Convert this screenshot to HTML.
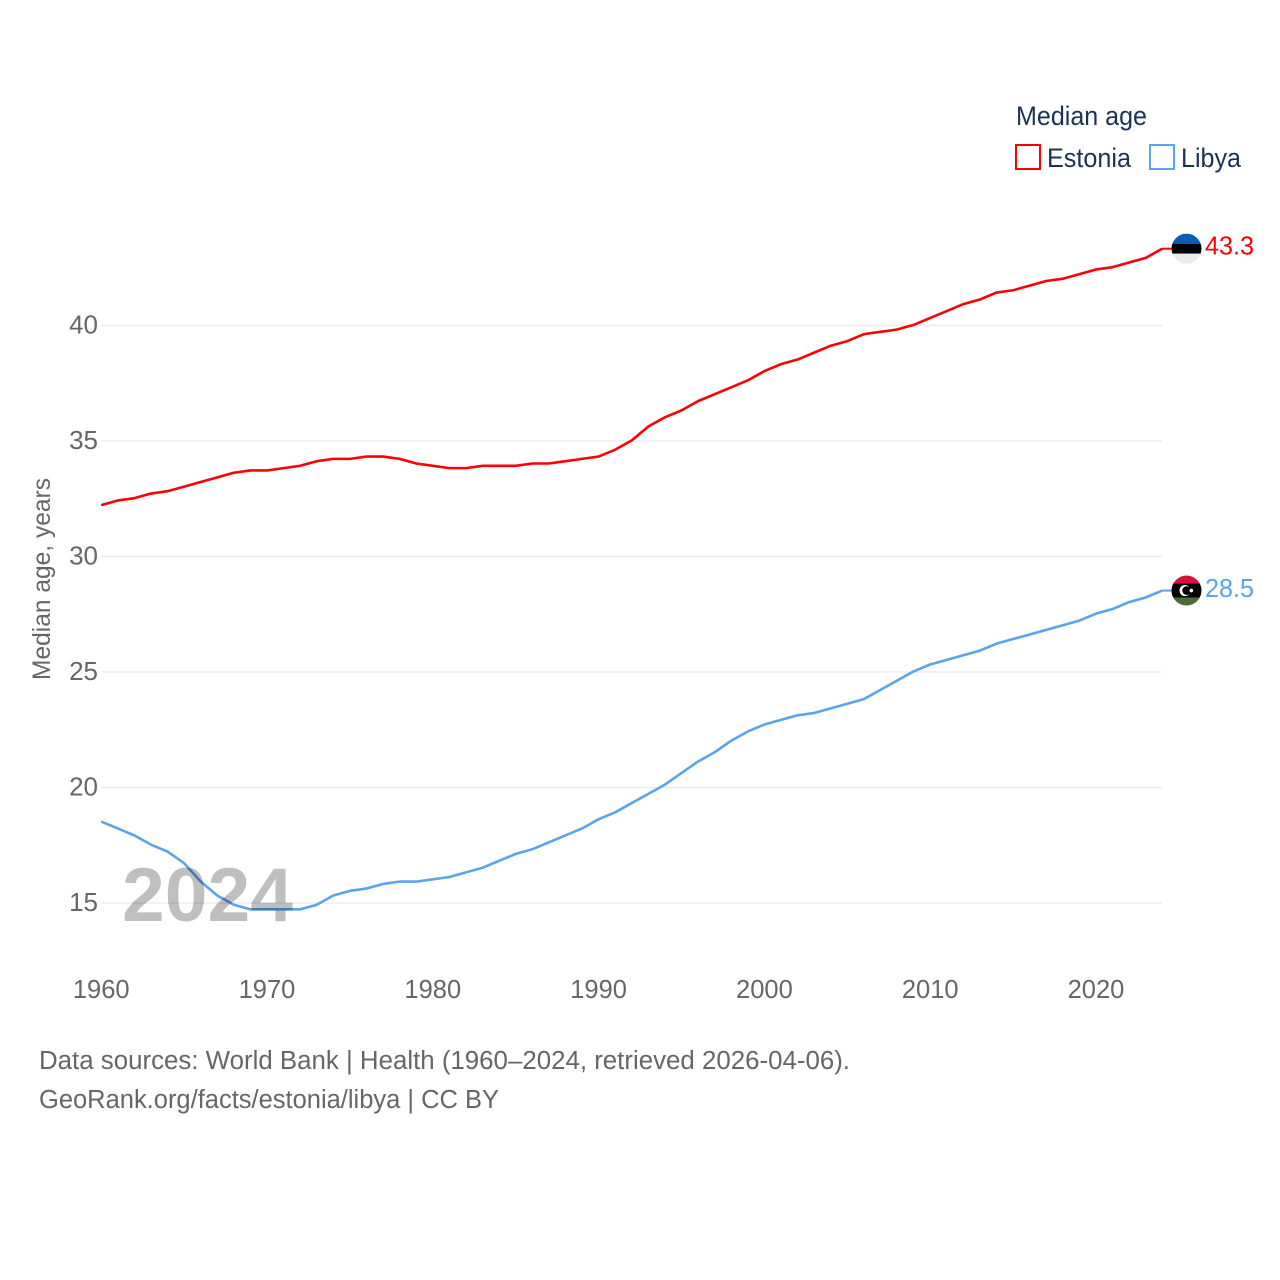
<!DOCTYPE html>
<html lang="en">
<head>
<meta charset="utf-8">
<title>Median age: Estonia and Libya</title>
<style>
html,body{margin:0;padding:0;background:#fff;}
svg{display:block;}
text{font-family:"Liberation Sans",sans-serif;}
</style>
</head>
<body>
<svg id="chart" xmlns="http://www.w3.org/2000/svg" width="1280" height="1280" viewBox="0 0 1280 1280">
  <defs>
    <clipPath id="estonia-clip"><circle id="estonia-clip-circle" r="15"></circle></clipPath>
    <clipPath id="libya-clip"><circle id="libya-clip-circle" r="15"></circle></clipPath>
  </defs>
  <rect width="1280" height="1280" fill="#fff"></rect>

  <g id="grid"></g>
  <g id="y-ticks"></g>
  <g id="x-ticks"></g>

  <text transform="translate(50 680) rotate(-90)" font-size="25" fill="#666" textLength="202" lengthAdjust="spacingAndGlyphs">Median age, years</text>

  <g id="series"></g>

  <text x="122" y="921" font-size="76" font-weight="700" fill="#000" fill-opacity="0.25" textLength="171" lengthAdjust="spacingAndGlyphs">2024</text>

  <g id="flags"></g>

  <g>
    <text x="1016" y="125" font-size="27" fill="#1a3354" textLength="131" lengthAdjust="spacingAndGlyphs">Median age</text>
    <rect x="1016" y="145" width="24" height="24" fill="none" stroke="#ff0000" stroke-width="2"></rect>
    <text x="1047" y="167" font-size="27" fill="#1a3354" textLength="84" lengthAdjust="spacingAndGlyphs">Estonia</text>
    <rect x="1150" y="145" width="24" height="24" fill="none" stroke="#5ba3ec" stroke-width="2"></rect>
    <text x="1181" y="167" font-size="27" fill="#1a3354" textLength="60" lengthAdjust="spacingAndGlyphs">Libya</text>
  </g>

  <text x="39" y="1069" font-size="25.5" fill="#666" textLength="811" lengthAdjust="spacingAndGlyphs">Data sources: World Bank | Health (1960–2024, retrieved 2026-04-06).</text>
  <text x="39" y="1108" font-size="25.5" fill="#666" textLength="460" lengthAdjust="spacingAndGlyphs">GeoRank.org/facts/estonia/libya | CC BY</text>
</svg>
<script>
const years = [1960,1961,1962,1963,1964,1965,1966,1967,1968,1969,1970,1971,1972,1973,1974,1975,1976,1977,1978,1979,1980,1981,1982,1983,1984,1985,1986,1987,1988,1989,1990,1991,1992,1993,1994,1995,1996,1997,1998,1999,2000,2001,2002,2003,2004,2005,2006,2007,2008,2009,2010,2011,2012,2013,2014,2015,2016,2017,2018,2019,2020,2021,2022,2023,2024];
const estonia = [32.2,32.4,32.5,32.7,32.8,33.0,33.2,33.4,33.6,33.7,33.7,33.8,33.9,34.1,34.2,34.2,34.3,34.3,34.2,34.0,33.9,33.8,33.8,33.9,33.9,33.9,34.0,34.0,34.1,34.2,34.3,34.6,35.0,35.6,36.0,36.3,36.7,37.0,37.3,37.6,38.0,38.3,38.5,38.8,39.1,39.3,39.6,39.7,39.8,40.0,40.3,40.6,40.9,41.1,41.4,41.5,41.7,41.9,42.0,42.2,42.4,42.5,42.7,42.9,43.3];
const libya = [18.5,18.2,17.9,17.5,17.2,16.7,15.9,15.3,14.9,14.7,14.7,14.7,14.7,14.9,15.3,15.5,15.6,15.8,15.9,15.9,16.0,16.1,16.3,16.5,16.8,17.1,17.3,17.6,17.9,18.2,18.6,18.9,19.3,19.7,20.1,20.6,21.1,21.5,22.0,22.4,22.7,22.9,23.1,23.2,23.4,23.6,23.8,24.2,24.6,25.0,25.3,25.5,25.7,25.9,26.2,26.4,26.6,26.8,27.0,27.2,27.5,27.7,28.0,28.2,28.5];
const yTickValues = [15,20,25,30,35,40];
const xTickValues = [1960,1970,1980,1990,2000,2010,2020];

const NS = 'http://www.w3.org/2000/svg';
function xScale(year){ return 101.2 + (year - 1960) * 16.58; }
function yScale(v){ return 903 - (v - 15) * 23.1; }
function lineY(v){ return yScale(v) - 0.6; }
function make(tag, attrs, parent){
  const el = document.createElementNS(NS, tag);
  for (const k in attrs) el.setAttribute(k, attrs[k]);
  parent.appendChild(el);
  return el;
}

const gridGroup = document.getElementById('grid');
const yTickGroup = document.getElementById('y-ticks');
yTickValues.forEach(function(v){
  const line = make('line', {x1:101.5, x2:1162, y1:yScale(v), y2:yScale(v), stroke:'#e9e9e9', 'stroke-width':1.2}, gridGroup);
  
  
  const label = make('text', {x:98, y:yScale(v) + 8.2, 'text-anchor':'end', 'font-size':26, fill:'#666'}, yTickGroup);
  
  
  label.textContent = String(v);
});

const xTickGroup = document.getElementById('x-ticks');
xTickValues.forEach(function(y){
  const label = make('text', {x:xScale(y), y:998, 'text-anchor':'middle', 'font-size':25.5, fill:'#666'}, xTickGroup);
  
  
  label.textContent = String(y);
});

function pathFor(values){
  return values.map(function(v, i){
    return (i ? 'L' : 'M') + xScale(years[i]).toFixed(2) + ' ' + lineY(v).toFixed(2);
  }).join(' ');
}

const seriesGroup = document.getElementById('series');
const estoniaLine = make('path', {d:pathFor(estonia), fill:'none', stroke:'#ff0000', 'stroke-width':2.6, 'stroke-linejoin':'round'}, seriesGroup);


const libyaLine = make('path', {d:pathFor(libya), fill:'none', stroke:'#5ba3ec', 'stroke-width':2.6, 'stroke-linejoin':'round'}, seriesGroup);



const flagX = 1186.5;
const lastX = xScale(years[years.length - 1]);
const estEnd = estonia[estonia.length - 1];
const libEnd = libya[libya.length - 1];
const estY = lineY(estEnd);
const libY = lineY(libEnd);

const estConn = make('line', {x1:lastX, x2:flagX - 14, y1:estY, y2:estY, stroke:'#ff0000', 'stroke-width':2}, seriesGroup);


const libConn = make('line', {x1:lastX, x2:flagX - 14, y1:libY, y2:libY, stroke:'#5ba3ec', 'stroke-width':2}, seriesGroup);



const flagsGroup = document.getElementById('flags');
const estClip = document.getElementById('estonia-clip-circle');
estClip.setAttribute('cx', flagX);
estClip.setAttribute('cy', estY);
const libClip = document.getElementById('libya-clip-circle');
libClip.setAttribute('cx', flagX);
libClip.setAttribute('cy', libY);

const estFlag = make('g', {'clip-path':'url(#estonia-clip)'}, flagsGroup);


make('rect', {x:flagX - 15, y:estY - 15, width:30, height:10, fill:'#0a5cb8'}, estFlag);
make('rect', {x:flagX - 15, y:estY - 5, width:30, height:10, fill:'#000'}, estFlag);
make('rect', {x:flagX - 15, y:estY + 5, width:30, height:10, fill:'#ececec'}, estFlag);

const libFlag = make('g', {'clip-path':'url(#libya-clip)'}, flagsGroup);


make('rect', {x:flagX - 15, y:libY - 15, width:30, height:8, fill:'#d9103a'}, libFlag);
make('rect', {x:flagX - 15, y:libY - 7, width:30, height:14, fill:'#000'}, libFlag);
make('rect', {x:flagX - 15, y:libY + 7, width:30, height:8, fill:'#4a6b35'}, libFlag);
make('circle', {cx:flagX - 1.5, cy:libY, r:5.5, fill:'#fff'}, libFlag);
make('circle', {cx:flagX + 0.2, cy:libY, r:4.4, fill:'#000'}, libFlag);
make('circle', {cx:flagX + 4.8, cy:libY, r:1.8, fill:'#fff'}, libFlag);

const estLabel = make('text', {x:1205, y:estY + 6, 'font-size':26, fill:'#ff0000', textLength:49, lengthAdjust:'spacingAndGlyphs'}, flagsGroup);


estLabel.textContent = estEnd.toFixed(1);
const libLabel = make('text', {x:1205, y:libY + 6.5, 'font-size':26, fill:'#5ba3ec', textLength:49, lengthAdjust:'spacingAndGlyphs'}, flagsGroup);


libLabel.textContent = libEnd.toFixed(1);
</script>
</body>
</html>
